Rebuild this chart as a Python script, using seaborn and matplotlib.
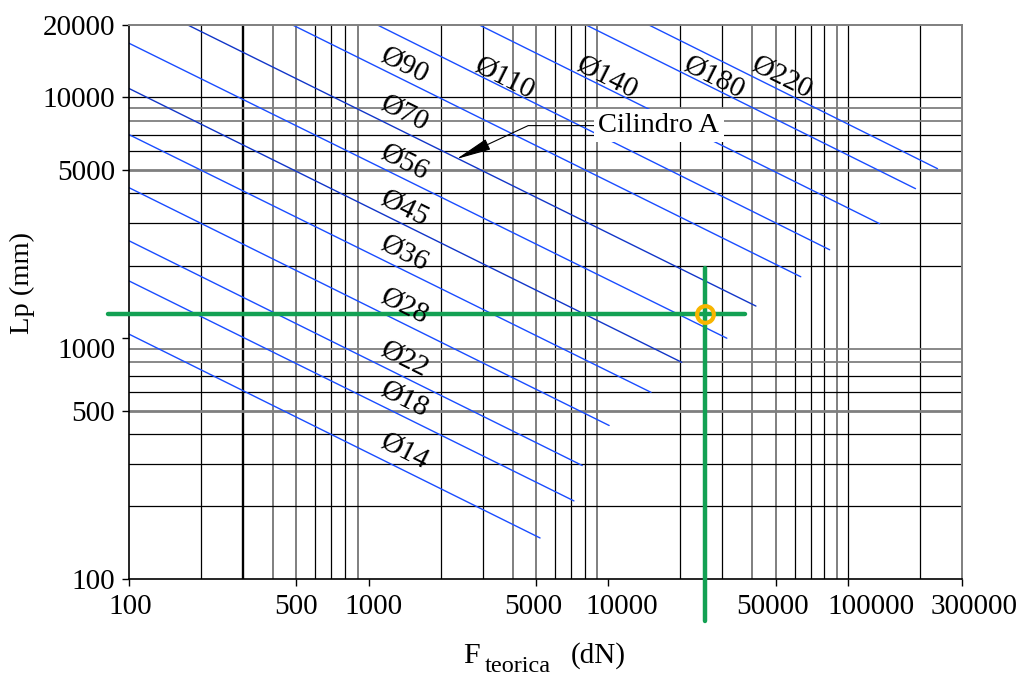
import numpy as np
import pandas as pd
import matplotlib
matplotlib.use('Agg')
import matplotlib.pyplot as plt
import matplotlib.transforms as mtransforms
import seaborn as sns

# cylinder diameters and the two end points of each buckling line
diameters = [14, 18, 22, 28, 36, 45, 56, 70, 90, 110, 140, 180, 220]
f_start = [100, 100, 100, 100, 100, 100, 100, 176, 482, 1090, 2900, 8100, 14800]
lp_start = [1040, 1730, 2540, 4220, 7010, 10900, 16800, 20000, 20000, 20000, 20000, 20000, 20000]
f_end = [5200, 7200, 7800, 10100, 15100, 20300, 31300, 41400, 63700, 84100, 135900, 191900, 237100]
lp_end = [148, 211, 296, 434, 596, 794, 1000, 1360, 1800, 2330, 2990, 4180, 5060]

# where the diameter labels sit
label_f = [1413, 1413, 1413, 1413, 1413, 1413, 1413, 1413, 1413, 3690, 9900, 27650, 53100]
label_lp = [338, 557, 817, 1359, 2239, 3448, 5360, 8577, 13600, 12000, 12100, 12100, 12100]

# working point (green cross) and its guide extents
point_f = 25400
point_lp = 1260
h_guide_f = [82, 37200]
v_guide_lp = [1950, 67]

# callout
callout_xy = (2330, 5550)
callout_text_xy = (16300, 7640)

x_ticks = [100, 500, 1000, 5000, 10000, 50000, 100000, 300000]
y_ticks = [100, 500, 1000, 5000, 10000, 20000]
x_grid = [v * 10 ** e for e in (2, 3, 4) for v in range(2, 10)] + [100000, 200000]
y_grid = [v * 10 ** e for e in (2, 3) for v in range(2, 10)] + [10000]

sns.set_style('white')
plt.rcParams['font.family'] = ['Liberation Serif', 'DejaVu Serif']
plt.rcParams['text.color'] = 'black'
plt.rcParams['xtick.color'] = 'black'
plt.rcParams['ytick.color'] = 'black'
plt.rcParams['axes.labelcolor'] = 'black'

fig = plt.figure(figsize=(10.21, 6.77), dpi=100)
ax = fig.add_axes([0.1263, 0.1448, 0.8159, 0.8183])
ax.set_xscale('log')
ax.set_yscale('log')
ax.set_xlim(100, 300000)
ax.set_ylim(100, 20000)

# grid, drawn by hand because the original mixes black and grey lines
for v in x_grid:
    lead = int(str(v)[0])
    if lead in (4, 5, 9):
        ax.axvline(v, color='#7f7f7f', lw=1.4, zorder=0)
    else:
        ax.axvline(v, color='black', lw=1.7 if v == 300 else 0.9, zorder=0)
for v in y_grid:
    lead = int(str(v)[0])
    if lead in (5, 8, 9):
        ax.axhline(v, color='#7f7f7f', lw=2.0 if lead == 5 else 1.3, zorder=0)
    else:
        ax.axhline(v, color='black', lw=0.9, zorder=0)

df = pd.DataFrame({'F': f_start + f_end, 'Lp': lp_start + lp_end, 'd': diameters * 2})
pal = {d: ('#1236c8' if d in (45, 70) else '#1a4dff') for d in diameters}
sns.lineplot(data=df, x='F', y='Lp', hue='d', palette=pal, legend=False,
             estimator=None, lw=1.0, ax=ax, zorder=2)
ax.set_xlabel('')
ax.set_ylabel('')

for d, fx, ly in zip(diameters, label_f, label_lp):
    ax.text(fx, ly, f'Ø{d}', fontsize=21, rotation=-26.5, rotation_mode='anchor',
            ha='center', va='center', zorder=5)

ax.plot(h_guide_f, [point_lp, point_lp], color='#13a153', lw=3.2, clip_on=False, zorder=3)
ax.plot([point_f, point_f], v_guide_lp, color='#13a153', lw=3.2, clip_on=False, zorder=3)
ax.plot([point_f], [point_lp], marker='o', ms=12, mfc='none', mec='#f7b500', mew=3,
        clip_on=False, zorder=4)

ax.annotate('Cilindro A', xy=callout_xy, xytext=callout_text_xy, fontsize=20.5,
            ha='center', va='center', zorder=6,
            bbox=dict(boxstyle='square,pad=0.15', fc='white', ec='none'),
            arrowprops=dict(arrowstyle='-|>,head_length=1.1,head_width=0.18',
                            mutation_scale=20, color='black', lw=0.8,
                            connectionstyle='angle,angleA=0,angleB=25,rad=0',
                            shrinkA=0, shrinkB=0))

ax.set_xticks(x_ticks)
ax.set_xticklabels([str(v) for v in x_ticks])
ax.set_yticks(y_ticks)
ax.set_yticklabels([str(v) for v in y_ticks])
ax.xaxis.set_minor_locator(matplotlib.ticker.NullLocator())
ax.yaxis.set_minor_locator(matplotlib.ticker.NullLocator())
ax.tick_params(axis='both', labelsize=21, length=5, width=1, color='black',
               labelcolor='black', direction='out', pad=5)
ax.tick_params(axis='x', pad=6)
ax.tick_params(bottom=True, left=True)

# the original's tick labels are not exactly centred on their ticks
x_shift_px = [1, 0, 5, -3, 14, -3, 23, 12]
for tick, dx in zip(ax.xaxis.get_major_ticks(), x_shift_px):
    off = mtransforms.ScaledTranslation(dx / 100, 0, fig.dpi_scale_trans)
    tick.label1.set_transform(tick.label1.get_transform() + off)
y_shift_px = [0, 0, -10, 0, 0, 0]
for tick, dy in zip(ax.yaxis.get_major_ticks(), y_shift_px):
    off = mtransforms.ScaledTranslation(0, dy / 100, fig.dpi_scale_trans)
    tick.label1.set_transform(tick.label1.get_transform() + off)

for s in ('left', 'bottom'):
    ax.spines[s].set_color('black')
    ax.spines[s].set_linewidth(1.2)
for s in ('top', 'right'):
    ax.spines[s].set_color('#7f7f7f')
    ax.spines[s].set_linewidth(1.4)

# axis titles, built from pieces so the subscript keeps its size
W, H = 1021, 677
fig.text(463 / W, 1 - 663 / H, 'F', fontsize=21.5, va='baseline', ha='left')
fig.text(485 / W, 1 - 672 / H, 'teorica', fontsize=17.5, va='baseline', ha='left')
fig.text(571 / W, 1 - 663 / H, '(dN)', fontsize=21, va='baseline', ha='left')
fig.text(22 / W, 1 - 283 / H, 'Lp (mm)', fontsize=20.5, rotation=90,
         ha='center', va='center')

fig.savefig('out.png', dpi=100)
